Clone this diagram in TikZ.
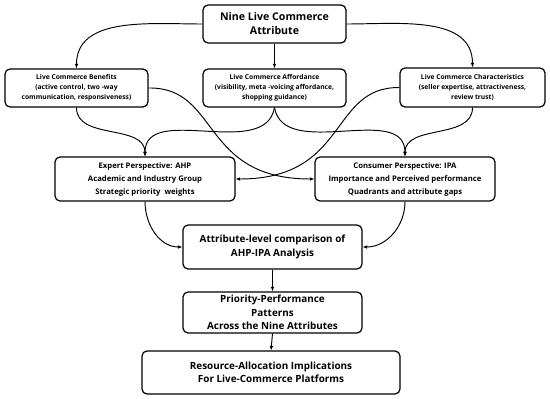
\documentclass[tikz,border=0pt]{standalone}
\usepackage{fontspec}
\setmainfont{Open Sans}
\usetikzlibrary{arrows.meta, positioning}
\tikzset{
    attr_box/.style={
        draw=black,
        line width=1.2pt,
        rounded corners=5pt,
        align=center,
        inner sep=0pt,
        font=\bfseries\fontsize{6.7}{10}\selectfont
    },
    method_box/.style={attr_box, font=\bfseries\fontsize{7.7}{13}\selectfont},
    result_box/.style={attr_box, font=\bfseries\fontsize{9.9}{13.5}\selectfont},
    flow/.style={line width=0.95pt, -{Latex[length=4.5pt,width=3.8pt]}}
}

\begin{document}
\begin{tikzpicture}[x=1pt, y=-1pt]
    \fill[white] (0,0) rectangle (550,399);

    % Top : the nine attributes
    \node[result_box, minimum width=143pt, minimum height=38pt,
          font=\bfseries\fontsize{10.6}{14}\selectfont] (nine) at (274.5, 24)
        {Nine Live Commerce\\Attribute};

    % Row 1 : three attribute groups
    \node[attr_box, minimum width=143pt, minimum height=38pt] (benefit) at (76.5, 88)
        {Live Commerce Benefits\\(active control, two -way\\communication, responsiveness)};
    \node[attr_box, minimum width=143pt, minimum height=38pt] (afford) at (274.5, 88)
        {Live Commerce Affordance\\(visibility, meta -voicing affordance,\\shopping guidance)};
    \node[attr_box, minimum width=145pt, minimum height=39pt] (charac) at (472.5, 87.5)
        {Live Commerce Characteristics\\(seller expertise, attractiveness,\\review trust)};

    % Row 2 : two perspectives
    \node[method_box, minimum width=180pt, minimum height=44pt] (expert) at (145, 179)
        {Expert Perspective: AHP\\Academic and Industry Group\\Strategic priority\ \ weights};
    \node[method_box, minimum width=180pt, minimum height=44pt] (consumer) at (405, 179)
        {Consumer Perspective: IPA\\Importance and Perceived performance\\Quadrants and attribute gaps};

    % Bottom : comparison and results
    \node[result_box, minimum width=179pt, minimum height=44pt] (compare) at (272.5, 247)
        {Attribute-level comparison of\\AHP-IPA Analysis};
    \node[result_box, minimum width=179pt, minimum height=41pt] (pattern) at (272.5, 312.5)
        {Priority-Performance\\Patterns\\Across the Nine Attributes};
    \node[result_box, minimum width=258pt, minimum height=43pt] (implic) at (271, 372.5)
        {Resource-Allocation Implications\\For Live-Commerce Platforms};

    % Connectors from the top
    \draw[flow] (nine.west) to[out=180, in=90] (benefit.north);
    \draw[flow] (nine.south) -- (afford.north);
    \draw[flow] (nine.east) to[out=0, in=90] (charac.north);

    % Connectors to the perspectives
    \draw[flow] (benefit.south) to[out=-90, in=90] (expert.north);
    \draw[flow] (afford.south) to[out=-100, in=90] (expert.north);
    \draw[flow] (afford.south) to[out=-80, in=90] (consumer.north);
    \draw[flow] (charac.south) to[out=-90, in=90] (consumer.north);
    \draw[flow] (benefit.east) .. controls (220,87) and (200,179) .. (consumer.west);
    \draw[flow] (charac.west) .. controls (329,87) and (349,179) .. (expert.east);

    % Connectors to the comparison and below
    \draw[flow] (expert.south) to[out=-90, in=180] (compare.west);
    \draw[flow] (consumer.south) to[out=-90, in=0] (compare.east);
    \draw[flow] (compare.south) -- (pattern.north);
    \draw[flow] (pattern.south) -- (implic.north);
\end{tikzpicture}
\end{document}
